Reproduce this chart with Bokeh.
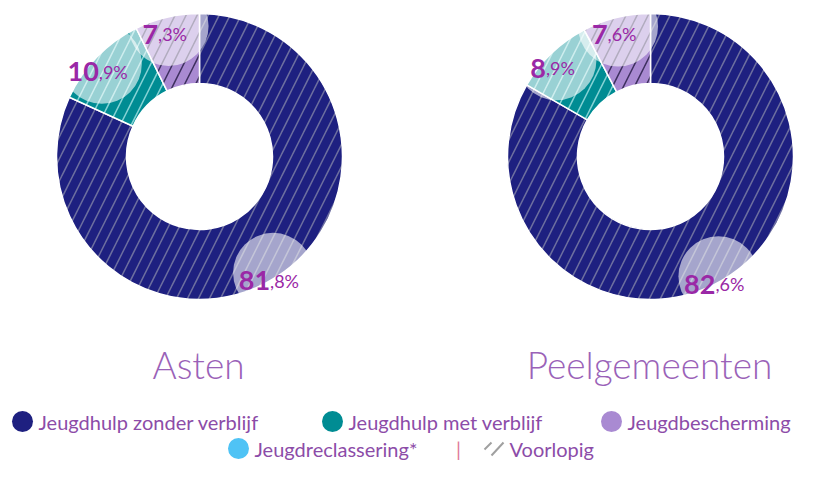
import math
from bokeh.plotting import figure
from bokeh.models import Range1d, ColumnDataSource
from bokeh.embed import file_html
from bokeh.resources import INLINE
from bokeh.core.properties import value

# ---------------- data ----------------
regions = ["Asten", "Peelgemeenten"]
categories = ["Jeugdhulp zonder verblijf", "Jeugdhulp met verblijf", "Jeugdbescherming"]
asten_values = [81.8, 10.9, 7.3]
peel_values = [82.6, 8.9, 7.6]
legend_labels = ["Jeugdhulp zonder verblijf", "Jeugdhulp met verblijf", "Jeugdbescherming",
                 "Jeugdreclassering*", "Voorlopig"]

# ---------------- styles ----------------
fill_colors = ["#1e2080", "#008c93", "#a98ad2"]
hatch_colors = ["#6d6f9f", "#86d3d5", "#3d2f5e"]
cyan = "#4fc3f5"
label_color = "#9a28a6"
text_color = "#8c4ca8"
FONT = "Lato"

W, H = 800, 461
p = figure(width=W, height=H, x_range=Range1d(0, W), y_range=Range1d(0, H),
           output_backend="svg", toolbar_location=None, min_border=0)
p.axis.visible = False
p.grid.visible = False
p.outline_line_color = None
p.background_fill_color = "white"
p.border_fill_color = "white"


def Y(s):
    return H - s


centers = [(199, 156), (650, 156)]
R_OUT, R_IN = 143, 73

for (cx, cy), name, vals in zip(centers, regions, [asten_values, peel_values]):
    total = sum(vals)
    cum = 0.0
    starts, ends, mids = [], [], []
    for v in vals:
        a0 = cum / total
        cum += v
        a1 = cum / total
        starts.append(math.pi / 2 - 2 * math.pi * a0)
        ends.append(math.pi / 2 - 2 * math.pi * a1)
        mids.append((a0 + a1) / 2)
    src = ColumnDataSource(dict(x=[cx] * len(vals), y=[Y(cy)] * len(vals),
                                s=starts, e=ends, fc=fill_colors, hc=hatch_colors))
    p.annular_wedge(x="x", y="y", inner_radius=R_IN, outer_radius=R_OUT,
                    start_angle="s", end_angle="e", direction="clock", source=src,
                    fill_color="fc", line_color="white", line_width=1.5,
                    hatch_pattern="/", hatch_color="hc", hatch_scale=22, hatch_weight=1.5)
    # highlight circles + labels
    for v, m in zip(vals, mids):
        ang = 2 * math.pi * m
        lx = cx + 136 * math.sin(ang)
        ly = cy - 136 * math.cos(ang)
        p.circle(x=[lx], y=[Y(ly + 2)], radius=40, fill_color="white", fill_alpha=0.6,
                 line_color=None)
        s = f"{v:.1f}".replace(".", ",")
        big, small = s.split(",")
        small = "," + small + "%"
        bw = 15 * len(big)
        sw = 36
        split = lx - (bw + sw) / 2 + bw
        p.text(x=[split], y=[Y(ly + 10)], text=[big], text_font=value(FONT),
               text_font_style="bold", text_font_size="27px", text_color=label_color,
               text_align="right", text_baseline="alphabetic")
        p.text(x=[split], y=[Y(ly + 10)], text=[small], text_font=value(FONT),
               text_font_size="18px", text_color=label_color,
               text_align="left", text_baseline="alphabetic")
    # title
    p.text(x=[cx - 1], y=[Y(364)], text=[name], text_font=value("Lato Light"),
           text_font_size="37px", text_color="#9a62b8", text_align="center",
           text_baseline="alphabetic")

# ---------------- legend ----------------
row1 = Y(421)
row2 = Y(448)
marker_x = [22, 332, 611]
for mx, lab, col in zip(marker_x, legend_labels[:3], fill_colors):
    p.scatter(x=[mx], y=[row1], size=21, fill_color=col, line_color=None)
    p.text(x=[mx + 16], y=[row1], text=[lab], text_font=value(FONT), text_font_size="20px",
           text_color=text_color, text_align="left", text_baseline="middle")
p.scatter(x=[238], y=[row2], size=21, fill_color=cyan, line_color=None)
p.text(x=[254], y=[row2], text=[legend_labels[3]], text_font=value(FONT), text_font_size="20px",
       text_color=text_color, text_align="left", text_baseline="middle")
p.text(x=[458], y=[row2], text=["|"], text_font=value(FONT), text_font_size="20px",
       text_color="#e07a9a", text_align="center", text_baseline="middle")
p.segment(x0=[484, 491], y0=[Y(449), Y(455)], x1=[491, 503], y1=[Y(442), Y(442)],
          line_color="#a0a0a0", line_width=2)
p.text(x=[509], y=[row2], text=[legend_labels[4]], text_font=value(FONT), text_font_size="20px",
       text_color=text_color, text_align="left", text_baseline="middle")

open("out.html", "w").write(file_html(p, INLINE))
